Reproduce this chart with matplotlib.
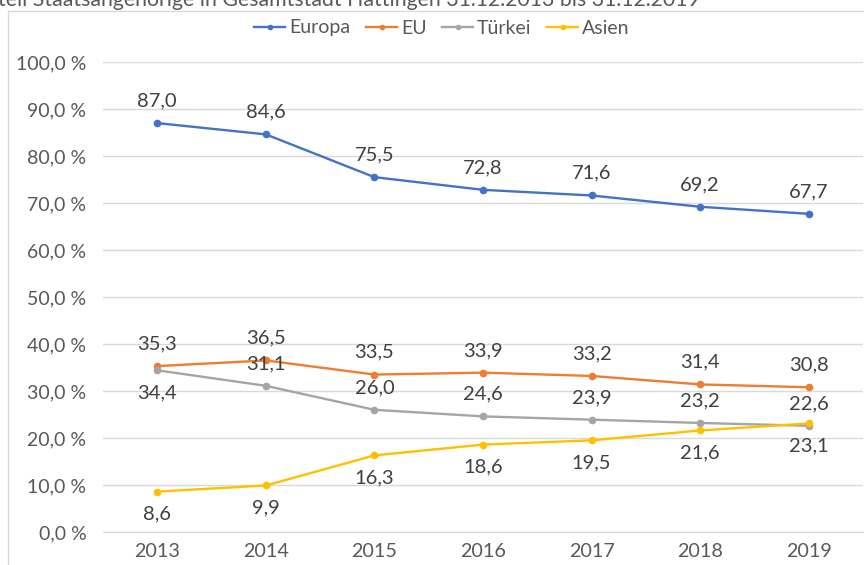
import matplotlib.pyplot as plt
from matplotlib.lines import Line2D
from matplotlib.patches import Rectangle

years = ["2013", "2014", "2015", "2016", "2017", "2018", "2019"]
europa = [87.0, 84.6, 75.5, 72.8, 71.6, 69.2, 67.7]
eu = [35.3, 36.5, 33.5, 33.9, 33.2, 31.4, 30.8]
tuerkei = [34.4, 31.1, 26.0, 24.6, 23.9, 23.2, 22.6]
asien = [8.6, 9.9, 16.3, 18.6, 19.5, 21.6, 23.1]

series_names = ["Europa", "EU", "Türkei", "Asien"]
series_colors = ["#4472C4", "#ED7D31", "#A5A5A5", "#FFC000"]
# label position per point: +1 above, -1 below
label_side = [
    [1] * 7,
    [1] * 7,
    [-1, 1, 1, 1, 1, 1, 1],
    [-1] * 7,
]

plt.rcParams['font.family'] = ['Lato', 'DejaVu Sans']
txt = "#595959"

fig = plt.figure(figsize=(8.64, 5.65), dpi=100)
ax = fig.add_axes([103 / 864, 1 - 532 / 565, 760 / 864, 470 / 565])

# chart border (partly outside the picture)
fig.patches.append(Rectangle((8 / 864, -0.1), 1.2, 1 - 11 / 565 + 0.1,
                             transform=fig.transFigure, fill=False,
                             edgecolor="#D9D9D9", linewidth=1))

x = list(range(len(years)))
for vals, name, col, sides in zip([europa, eu, tuerkei, asien], series_names,
                                  series_colors, label_side):
    ax.plot(x, vals, color=col, linewidth=1.7, marker="o", markersize=4.5,
            label=name, zorder=3)
    for xi, v, s in zip(x, vals, sides):
        ax.annotate(f"{v:.1f}".replace(".", ","), (xi, v),
                    xytext=(0, 16 * s), textcoords="offset points",
                    ha="center", va="center", fontsize=14.5, color="#404040")

ax.set_xlim(-0.5, 6.5)
ax.set_ylim(0, 100)
ax.set_yticks(range(0, 101, 10))
ax.set_yticklabels([f"{v},0 %" for v in range(0, 101, 10)])
ax.set_xticks(x)
ax.set_xticklabels(years)
ax.yaxis.grid(True, color="#D9D9D9", linewidth=1)
ax.set_axisbelow(True)
for sp in ["top", "right", "left"]:
    ax.spines[sp].set_visible(False)
ax.spines["bottom"].set_color("#D9D9D9")
ax.tick_params(axis="y", length=0, labelsize=14, colors=txt, pad=12)
ax.tick_params(axis="x", length=0, labelsize=14.2, colors=txt, pad=8)

handles = [Line2D([], [], color=c, marker="o", markersize=3, linewidth=1.7)
           for c in series_colors]
fig.legend(handles, series_names, loc="center", bbox_to_anchor=(442 / 864, 1 - 28 / 565),
           ncol=4, frameon=False, fontsize=14, labelcolor=txt,
           handlelength=1.6, handletextpad=0.2, columnspacing=0.8)

fig.text(-2 / 864, 1 - 6 / 565,
         "teil Staatsangehörige in Gesamtstadt Hattingen 31.12.2013 bis 31.12.2019",
         ha="left", va="baseline", fontsize=15.3, color=txt)

fig.savefig("out.png", dpi=100)
